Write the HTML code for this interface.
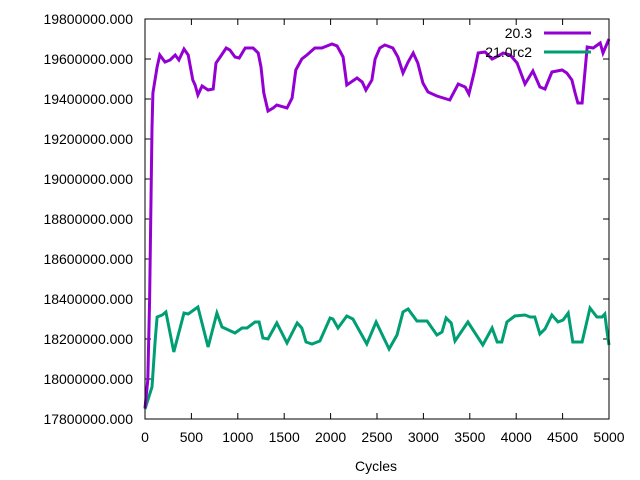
<!DOCTYPE html>
<html><head><meta charset="utf-8"><style>
body{margin:0;background:#fff}
svg{display:block;font-family:"Liberation Sans",sans-serif;font-size:14px}
</style></head><body>
<svg id="chart" width="640" height="480" viewBox="0 0 640 480" xmlns="http://www.w3.org/2000/svg">
<rect width="640" height="480" fill="#fff"/>
<g id="grid"></g>
<g id="series"></g>
<rect x="145" y="19" width="464" height="400" fill="none" stroke="#000" stroke-width="1"/>
<text x="376" y="471" text-anchor="middle">Cycles</text>
<g>
<text x="532" y="38" text-anchor="end">20.3</text>
<line x1="544" y1="33" x2="591" y2="33" stroke="#9400d3" stroke-width="3"/>
<text x="532" y="57" text-anchor="end">21.0rc2</text>
<line x1="544" y1="52" x2="591" y2="52" stroke="#009e73" stroke-width="3"/>
</g>
</svg>
<script>
const xTicks=[0,500,1000,1500,2000,2500,3000,3500,4000,4500,5000];
const yTicks=[17800000,18000000,18200000,18400000,18600000,18800000,19000000,19200000,19400000,19600000,19800000];
const cyclesA=[0,30,50,75,85,130,160,215,270,325,365,420,465,515,540,570,615,680,735,765,810,875,915,970,1015,1080,1165,1220,1250,1280,1325,1380,1420,1530,1585,1625,1690,1745,1830,1905,2015,2070,2135,2175,2285,2340,2380,2445,2480,2530,2585,2670,2725,2780,2835,2890,2940,2995,3050,3145,3285,3375,3450,3490,3545,3590,3665,3740,3805,3860,3935,4010,4095,4180,4255,4310,4385,4495,4545,4600,4635,4665,4710,4765,4830,4905,4935,5000];
const valuesA=[17855000,17995000,18395000,19255000,19430000,19560000,19620000,19585000,19595000,19620000,19595000,19650000,19620000,19495000,19470000,19420000,19465000,19445000,19450000,19580000,19610000,19655000,19645000,19610000,19605000,19655000,19655000,19630000,19560000,19430000,19340000,19355000,19370000,19355000,19405000,19545000,19600000,19620000,19655000,19655000,19675000,19665000,19610000,19470000,19505000,19485000,19445000,19495000,19600000,19655000,19670000,19655000,19610000,19530000,19585000,19630000,19580000,19480000,19435000,19415000,19395000,19475000,19460000,19425000,19530000,19630000,19635000,19600000,19615000,19630000,19620000,19580000,19475000,19540000,19460000,19450000,19535000,19545000,19530000,19495000,19430000,19380000,19380000,19660000,19655000,19680000,19630000,19700000];
const cyclesB=[0,75,110,130,185,225,310,420,465,570,680,775,830,970,1045,1100,1185,1230,1270,1325,1420,1530,1640,1690,1735,1800,1885,1995,2025,2080,2175,2240,2390,2490,2630,2715,2780,2835,2930,3040,3145,3200,3245,3300,3340,3480,3640,3740,3795,3845,3900,3985,4095,4150,4200,4255,4310,4385,4450,4505,4560,4610,4710,4795,4870,4925,4955,4980,5000];
const valuesB=[17850000,17960000,18195000,18310000,18320000,18335000,18135000,18330000,18325000,18360000,18160000,18330000,18260000,18230000,18255000,18255000,18285000,18285000,18205000,18200000,18280000,18180000,18280000,18255000,18185000,18175000,18190000,18305000,18300000,18255000,18315000,18300000,18175000,18285000,18150000,18220000,18335000,18350000,18290000,18290000,18220000,18235000,18305000,18280000,18190000,18285000,18170000,18255000,18185000,18185000,18285000,18315000,18320000,18310000,18310000,18225000,18250000,18320000,18285000,18295000,18330000,18185000,18185000,18355000,18310000,18310000,18325000,18235000,18170000];

const L=145,R=609,T=19,B=419;
const xs=v=>L+(v-0)/(5000-0)*(R-L);
const ys=v=>B-(v-17800000)/(19800000-17800000)*(B-T);
const NS='http://www.w3.org/2000/svg';
const grid=document.getElementById('grid');
const ser=document.getElementById('series');
function mk(tag,attrs,parent){const e=document.createElementNS(NS,tag);for(const k in attrs)e.setAttribute(k,attrs[k]);parent.appendChild(e);return e;}
xTicks.forEach(t=>{
  const x=xs(t);
  const a=mk('path',{d:`M${x},${B}v-6M${x},${T}v6`,stroke:'#000','stroke-width':1},grid);
  
  
  const tx=mk('text',{x:x,y:442,'text-anchor':'middle'},grid);
  tx.textContent=String(t);
  
  
});
yTicks.forEach(t=>{
  const y=ys(t);
  const a=mk('path',{d:`M${L},${y}h6M${R},${y}h-6`,stroke:'#000','stroke-width':1},grid);
  
  
  const tx=mk('text',{x:133,y:y+5,'text-anchor':'end'},grid);
  tx.textContent=t.toFixed(3);
  
  
});
function line(cx,vals,color,name){
  const pts=cx.map((c,i)=>xs(c).toFixed(1)+','+ys(vals[i]).toFixed(1)).join(' ');
  const p=mk('polyline',{points:pts,fill:'none',stroke:color,'stroke-width':3,'stroke-linejoin':'miter'},ser);
  
  
}
line(cyclesB,valuesB,'#009e73','series-21-0rc2');
line(cyclesA,valuesA,'#9400d3','series-20-3');
</script>
</body></html>
